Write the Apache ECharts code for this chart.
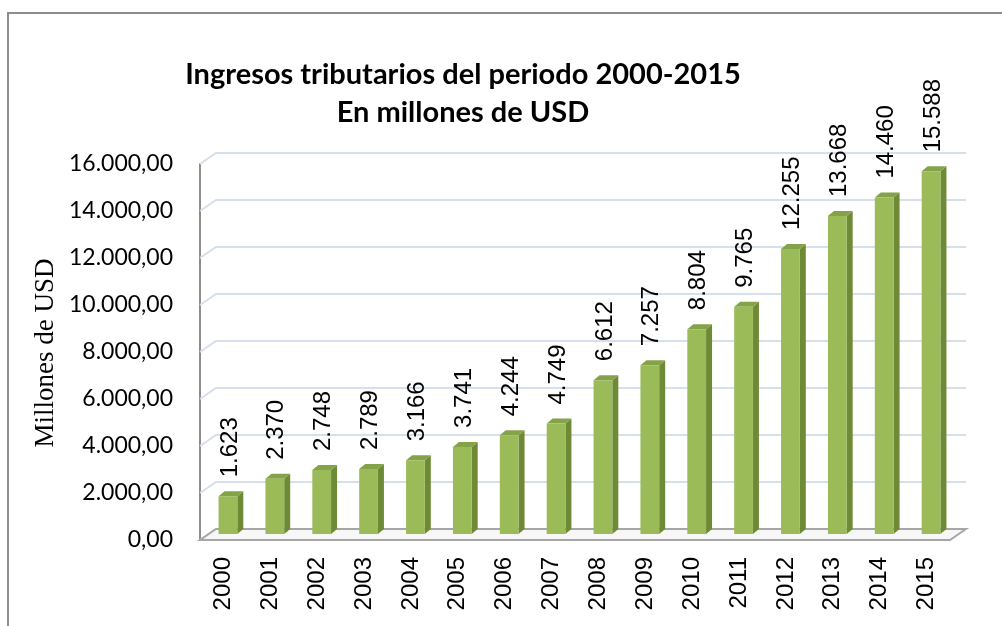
<!DOCTYPE html>
<html>
<head>
<meta charset="utf-8">
<script src="https://cdn.jsdelivr.net/npm/echarts@6/dist/echarts.min.js"></script>
<style>
  html, body { margin: 0; padding: 0; background: #fff; }
  #chart { width: 1002px; height: 626px; }
</style>
</head>
<body>
<div id="chart"></div>
<script>
// datos del grafico
var years = ['2000', '2001', '2002', '2003', '2004', '2005', '2006', '2007',
  '2008', '2009', '2010', '2011', '2012', '2013', '2014', '2015'];
var ingresos = [1623, 2370, 2748, 2789, 3166, 3741, 4244, 4749,
  6612, 7257, 8804, 9765, 12255, 13668, 14460, 15588];
var yTicks = [0, 2000, 4000, 6000, 8000, 10000, 12000, 14000, 16000];

// profundidad del efecto 3D
var DX = 16, DY = -11;

function miles(v) {
  return String(v).replace(/\B(?=(\d{3})+(?!\d))/g, '.');
}

var chart = echarts.init(document.getElementById('chart'));

var option = {
  backgroundColor: '#fff',
  animation: false,
  title: {
    text: 'Ingresos tributarios del periodo 2000-2015\nEn millones de USD',
    left: 458,
    top: 51,
    textAlign: 'center',
    textStyle: {
      fontFamily: 'Lato',
      fontWeight: 'bold',
      fontSize: 29,
      lineHeight: 38,
      color: '#000'
    }
  },
  graphic: [
    {
      type: 'rect',
      shape: { x: 8, y: 13, width: 1100, height: 700 },
      style: { fill: 'none', stroke: '#8c8c8c', lineWidth: 2 },
      silent: true
    },
    {
      type: 'text',
      x: 46,
      y: 353,
      rotation: Math.PI / 2,
      style: {
        text: 'Millones de USD',
        font: '27px "Liberation Serif"',
        fill: '#000',
        align: 'center',
        verticalAlign: 'middle'
      }
    }
  ],
  grid: { left: 200, right: 52, top: 164, bottom: 86 },
  xAxis: {
    type: 'category',
    data: years,
    axisLine: { show: false },
    axisTick: { show: false },
    axisLabel: {
      rotate: 90,
      margin: 17,
      fontFamily: 'Liberation Sans',
      fontSize: 24,
      color: '#000'
    }
  },
  yAxis: {
    type: 'value',
    min: 0,
    max: 16000,
    interval: 2000,
    axisLine: { show: true, lineStyle: { color: '#8c8c8c', width: 2 } },
    axisTick: { show: false },
    splitLine: { show: false },
    axisLabel: {
      margin: 27,
      fontFamily: 'Lato',
      fontSize: 23,
      color: '#000',
      formatter: function (v) { return miles(v) + ',00'; }
    }
  },
  series: [
    {
      // lineas de division (pared del fondo y pared izquierda)
      type: 'custom',
      silent: true,
      z: 1,
      data: yTicks.map(function (t) { return [0, t]; }),
      renderItem: function (params, api) {
        var cs = params.coordSys;
        var y = api.coord([0, api.value(1)])[1];
        var x0 = cs.x, x1 = cs.x + cs.width;
        return {
          type: 'polyline',
          shape: { points: [[x0, y], [x0 + DX, y + DY], [x1 + DX, y + DY]] },
          style: { stroke: '#d6dfec', lineWidth: 2, fill: null }
        };
      }
    },
    {
      // piso
      type: 'custom',
      silent: true,
      z: 2,
      data: [[0, 0]],
      renderItem: function (params, api) {
        var cs = params.coordSys;
        var y = api.coord([0, 0])[1];
        var x0 = cs.x, x1 = cs.x + cs.width;
        return {
          type: 'polygon',
          shape: { points: [[x0, y], [x0 + DX, y + DY], [x1 + DX, y + DY], [x1, y]] },
          style: { fill: '#f7f7f7', stroke: '#a6a6a6', lineWidth: 2 }
        };
      }
    },
    {
      // barras 3D
      type: 'custom',
      z: 3,
      data: ingresos.map(function (v, i) { return [i, v]; }),
      renderItem: function (params, api) {
        var i = api.value(0), v = api.value(1);
        var base = api.coord([i, 0]);
        var tp = api.coord([i, v]);
        var w = api.size([1, 0])[0] * 0.4;
        var cx = base[0] + 4.5;
        var yb = base[1] - 6;
        var yt = yb - (base[1] - tp[1]) * 0.99;
        var xl = cx - w / 2, xr = cx + w / 2;
        var sx = 6, sy = -5;
        return {
          type: 'group',
          children: [
            {
              type: 'polygon',
              shape: { points: [[xr, yt], [xr + sx, yt + sy], [xr + sx, yb + sy], [xr, yb]] },
              style: { fill: '#6f8a37' }
            },
            {
              type: 'polygon',
              shape: { points: [[xl, yt], [xl + sx, yt + sy], [xr + sx, yt + sy], [xr, yt]] },
              style: { fill: '#84a247' }
            },
            {
              type: 'rect',
              shape: { x: xl, y: yt, width: w, height: yb - yt },
              style: { fill: '#9bbb59' }
            },
            {
              type: 'text',
              x: cx + 2,
              y: yt + sy - 14,
              rotation: Math.PI / 2,
              style: {
                text: miles(v),
                font: '24px "Liberation Sans"',
                fill: '#000',
                align: 'left',
                verticalAlign: 'middle'
              }
            }
          ]
        };
      }
    }
  ]
};

chart.setOption(option);

window.onresize = function () {
  chart.resize();
};
</script>
</body>
</html>
